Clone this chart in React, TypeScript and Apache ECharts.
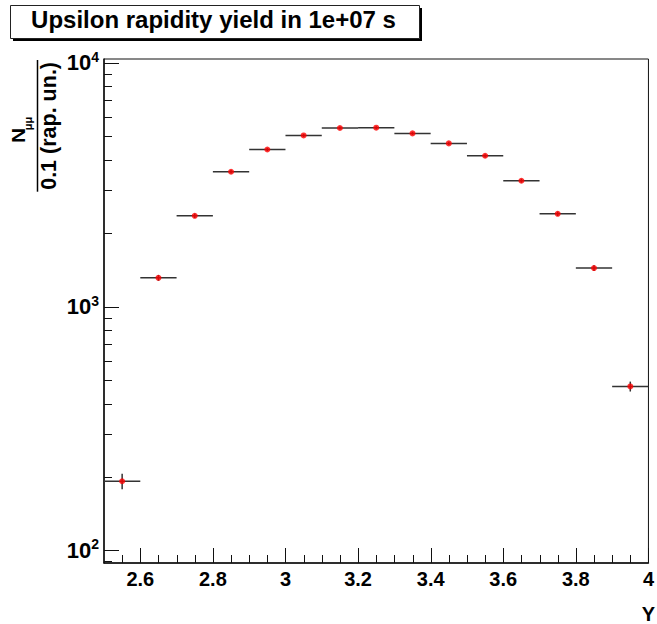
import React, { useEffect, useRef } from "react";
import * as echarts from "echarts";

// ---- data ----
const binCenters = [2.55, 2.65, 2.75, 2.85, 2.95, 3.05, 3.15, 3.25, 3.35, 3.45, 3.55, 3.65, 3.75, 3.85, 3.95];
const yields = [192, 1311, 2355, 3570, 4406, 5031, 5396, 5412, 5130, 4667, 4153, 3280, 2400, 1438, 470];
const yieldErrors = [14, 36, 49, 60, 66, 71, 73, 74, 72, 68, 64, 57, 49, 38, 22];
const binHalfWidth = 0.05;

const xMajorTicks = [2.6, 2.8, 3.0, 3.2, 3.4, 3.6, 3.8, 4.0];
const xMinorTicks = [2.55, 2.65, 2.7, 2.75, 2.85, 2.9, 2.95, 3.05, 3.1, 3.15, 3.25, 3.3, 3.35, 3.45, 3.5, 3.55, 3.65, 3.7, 3.75, 3.85, 3.9, 3.95];
const yMajorTicks = [100, 1000, 10000];
const yMinorTicks = [90, 200, 300, 400, 500, 600, 700, 800, 900, 2000, 3000, 4000, 5000, 6000, 7000, 8000, 9000];

const xMin = 2.5;
const xMax = 4;
const yMin = 88.7;
const yMax = 10356;

const titleText = "Upsilon rapidity yield in 1e+07 s";
const yTitleNum = "N";
const yTitleSub = "\u03bc\u03bc";
const yTitleDen = "0.1 (rap. un.)";
const xTitle = "Y";

const FONT = "'Liberation Sans', Arial, Helvetica, sans-serif";

function tickSeries(values: number[], axis: "x" | "y", len: number) {
  return {
    type: "custom",
    silent: true,
    clip: false,
    z: 5,
    data: values.map((v) => (axis === "x" ? [v, yMin] : [xMin, v])),
    renderItem: (params: any, api: any) => {
      const p = api.coord([api.value(0), api.value(1)]);
      const x = Math.round(p[0]) + 0.5;
      const y = Math.round(p[1]) + 0.5;
      const shape =
        axis === "x"
          ? { x1: x, y1: p[1], x2: x, y2: p[1] - len }
          : { x1: p[0], y1: y, x2: p[0] + len, y2: y };
      return {
        type: "line",
        shape,
        style: { stroke: "#111", lineWidth: 1 },
      };
    },
  };
}

export default function App() {
  const ref = useRef<HTMLDivElement>(null);

  useEffect(() => {
    if (!ref.current) return;
    const chart = echarts.init(ref.current, null, { renderer: "svg" });

    const option: any = {
      animation: false,
      backgroundColor: "#ffffff",
      grid: {
        left: 104,
        right: 4,
        top: 59,
        bottom: 61,
        show: true,
        borderColor: "#111",
        borderWidth: 1,
        backgroundColor: "transparent",
      },
      xAxis: {
        type: "value",
        min: xMin,
        max: xMax,
        interval: 0.1,
        axisLine: { show: true, onZero: false, lineStyle: { color: "#111", width: 1.5 } },
        axisTick: { show: false },
        splitLine: { show: false },
        axisLabel: {
          margin: 6,
          color: "#000",
          fontSize: 20,
          fontWeight: "bold",
          fontFamily: FONT,
          formatter: (v: number) => {
            const k = Math.round(v * 10);
            if (k % 2 !== 0) return "";
            return String(k / 10);
          },
        },
      },
      yAxis: {
        type: "log",
        logBase: 10,
        min: yMin,
        max: yMax,
        axisLine: { show: true, onZero: false, lineStyle: { color: "#111", width: 1.5 } },
        axisTick: { show: false },
        minorTick: { show: false },
        splitLine: { show: false },
        axisLabel: {
          margin: 5,
          color: "#000",
          formatter: (v: number) => {
            const e = Math.log10(v);
            const r = Math.round(e);
            if (Math.abs(e - r) > 1e-6) return "";
            return `{b|10}{s|${r}}`;
          },
          rich: {
            b: { fontSize: 22, fontWeight: "bold", fontFamily: FONT, color: "#000" },
            s: {
              fontSize: 14,
              fontWeight: "bold",
              fontFamily: FONT,
              color: "#000",
              padding: [0, 0, 12, 0],
            },
          },
        },
      },
      graphic: [
        // title box with shadow
        {
          type: "rect",
          shape: { x: 13, y: 38.5, width: 409, height: 2.5 },
          style: { fill: "#000" },
          silent: true,
        },
        {
          type: "rect",
          shape: { x: 419.5, y: 8, width: 2.5, height: 33 },
          style: { fill: "#000" },
          silent: true,
        },
        {
          type: "rect",
          shape: { x: 10.5, y: 5.5, width: 409, height: 33 },
          style: { fill: "#fff", stroke: "#222", lineWidth: 1 },
          silent: true,
        },
        {
          type: "text",
          x: 213.5,
          y: 19.7,
          style: {
            text: titleText,
            fill: "#000",
            font: `bold 24px ${FONT}`,
            align: "center",
            verticalAlign: "middle",
          },
          silent: true,
        },
        // y-axis title (fraction)
        {
          type: "line",
          shape: { x1: 37.5, y1: 60, x2: 37.5, y2: 191.7 },
          style: { stroke: "#000", lineWidth: 1.5 },
          silent: true,
        },
        {
          type: "text",
          x: 18.7,
          y: 135.5,
          rotation: Math.PI / 2,
          scaleY: 0.85,
          style: {
            text: yTitleNum,
            fill: "#000",
            font: `bold 21px ${FONT}`,
            align: "center",
            verticalAlign: "middle",
          },
          silent: true,
        },
        {
          type: "text",
          x: 27.5,
          y: 123.5,
          rotation: Math.PI / 2,
          style: {
            text: yTitleSub,
            fill: "#000",
            font: `bold 11px ${FONT}`,
            align: "center",
            verticalAlign: "middle",
          },
          silent: true,
        },
        {
          type: "text",
          x: 49.2,
          y: 125.9,
          rotation: Math.PI / 2,
          style: {
            text: yTitleDen,
            fill: "#000",
            font: `bold 21.5px ${FONT}`,
            align: "center",
            verticalAlign: "middle",
          },
          silent: true,
        },
        // x-axis title
        {
          type: "text",
          x: 655,
          y: 613.5,
          style: {
            text: xTitle,
            fill: "#000",
            font: `bold 20px ${FONT}`,
            align: "right",
            verticalAlign: "middle",
          },
          silent: true,
        },
      ],
      series: [
        {
          type: "custom",
          silent: true,
          clip: false,
          z: 3,
          data: binCenters.map((x, i) => [x, yields[i], yieldErrors[i]]),
          renderItem: (params: any, api: any) => {
            const x = api.value(0);
            const y = api.value(1);
            const e = api.value(2);
            const l = api.coord([x - binHalfWidth, y]);
            const r = api.coord([x + binHalfWidth, y]);
            const t = api.coord([x, y + e]);
            const b = api.coord([x, y - e]);
            return {
              type: "group",
              children: [
                {
                  type: "line",
                  shape: { x1: l[0], y1: l[1], x2: r[0], y2: r[1] },
                  style: { stroke: "#333", lineWidth: 1.5 },
                },
                {
                  type: "line",
                  shape: { x1: t[0], y1: t[1], x2: b[0], y2: b[1] },
                  style: { stroke: "#333", lineWidth: 1.5 },
                },
              ],
            };
          },
        },
        {
          type: "scatter",
          symbol: "circle",
          symbolSize: 6,
          z: 4,
          itemStyle: { color: "#ff0000" },
          data: binCenters.map((x, i) => [x, yields[i]]),
        },
        tickSeries(xMajorTicks, "x", 15),
        tickSeries(xMinorTicks, "x", 8),
        tickSeries(yMajorTicks, "y", 15),
        tickSeries(yMinorTicks, "y", 8),
      ],
    };

    chart.setOption(option);
    return () => {
      chart.dispose();
    };
  }, []);

  return (
    <div
      ref={ref}
      style={{ position: "absolute", left: 0, top: 0, width: 657, height: 624, background: "#fff" }}
    />
  );
}
